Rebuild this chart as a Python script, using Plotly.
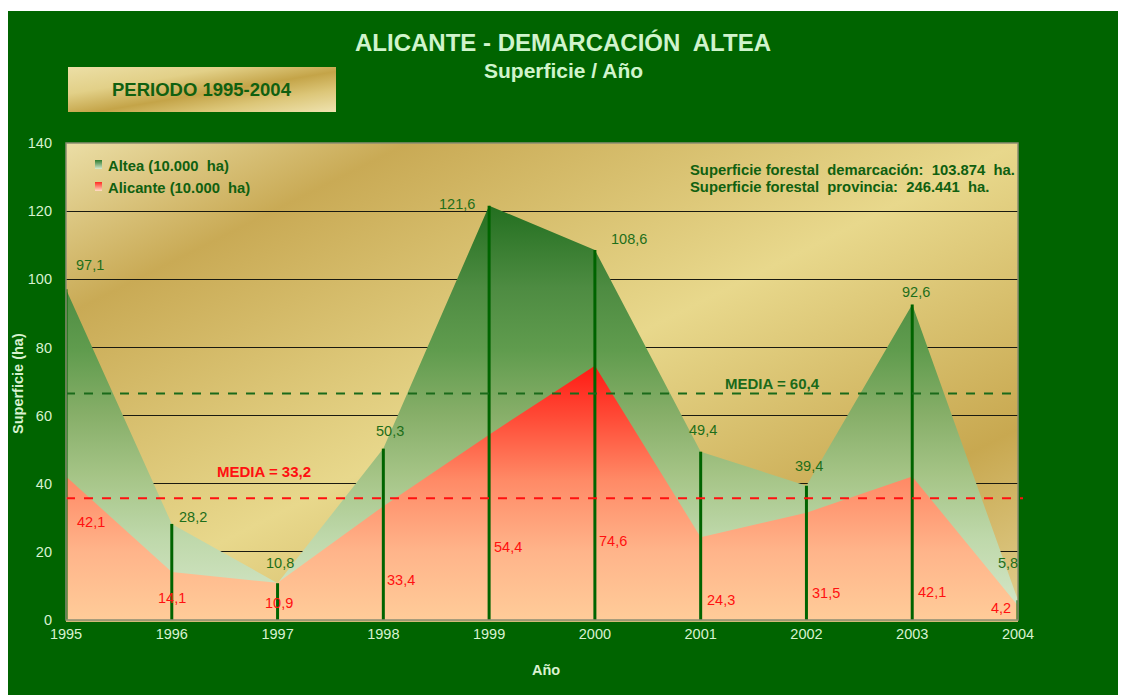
import base64
import plotly.graph_objects as go

# ---------------- data ----------------
years = [1995, 1996, 1997, 1998, 1999, 2000, 2001, 2002, 2003, 2004]
altea = [97.1, 28.2, 10.8, 50.3, 121.6, 108.6, 49.4, 39.4, 92.6, 5.8]
alicante = [42.1, 14.1, 10.9, 33.4, 54.4, 74.6, 24.3, 31.5, 42.1, 4.2]
y_ticks = [0, 20, 40, 60, 80, 100, 120, 140]
media_altea_text = "MEDIA = 60,4"
media_alicante_text = "MEDIA = 33,2"
media_altea_level = 66.5      # drawn level
media_alicante_level = 35.7   # drawn level
series_names = ["Altea (10.000  ha)", "Alicante (10.000  ha)"]
info_lines = ["Superficie forestal  demarcación:  103.874  ha.",
              "Superficie forestal  provincia:  246.441  ha."]

# label offsets (pixels, x right / y up) relative to each point
altea_shift = [(24, 24), (21, 7), (2, 20), (7, 18), (-32, 2), (34, 11),
               (2, 22), (3, 20), (4, 13), (-10, 37)]
alicante_shift = [(25, -45), (0, -26), (1, -20), (18, -74), (19, -112),
                  (18, -175), (20, -63), (20, -80), (20, -115), (-17, -2)]

# ---------------- layout geometry (screen pixels) ----------------
OX, OY = 8, 8                     # page body margin
FW, FH = 1118, 687                # figure size
L, R, T, B = 66, 1018, 143, 620   # plot area on screen
PW, PH = R - L, B - T


def px(x):
    return (x - L) / PW


def py(y):
    return (B - y) / PH


def fmt(v):
    return f"{v:.1f}".replace(".", ",")


def svg_uri(svg):
    return "data:image/svg+xml;base64," + base64.b64encode(svg.encode()).decode()


def grad_svg(w, h, stops, x2=1, y2=1):
    st = "".join(f'<stop offset="{o}" stop-color="{c}"/>' for o, c in stops)
    return (f'<svg xmlns="http://www.w3.org/2000/svg" width="{w}" height="{h}" '
            f'viewBox="0 0 {w} {h}" preserveAspectRatio="none"><defs>'
            f'<linearGradient id="g" x1="0" y1="0" x2="{x2}" y2="{y2}">{st}'
            f'</linearGradient></defs><rect width="{w}" height="{h}" fill="url(#g)"/></svg>')


FONT = "Arial, Liberation Sans, sans-serif"
DKGREEN = "#006400"
LABGREEN = "#1e6e1a"
TXTGREEN = "#106010"
PALE = "#d8f2d0"

gold_bg = grad_svg(PW, PH, [(0, "#ebdea6"), (0.18, "#c9aa55"), (0.5, "#e8d88c"),
                            (0.8, "#c8a850"), (1, "#e2d090")])
periodo_bg = grad_svg(268, 45, [(0, "#ecdfa6"), (0.3, "#e2d088"), (0.55, "#c4a448"),
                                (0.75, "#dcc678"), (1, "#efe3b0")])
leg_green = grad_svg(7, 9, [(0, "#2d7a2d"), (1, "#d8ead0")], x2=0, y2=1)
leg_red = grad_svg(7, 9, [(0, "#ff2a20"), (1, "#ffe0c8")], x2=0, y2=1)

fig = go.Figure()

fig.add_trace(go.Scatter(
    x=years, y=altea, mode="lines", line=dict(width=0), fill="tozeroy",
    fillgradient=dict(type="vertical", start=0, stop=max(altea),
                      colorscale=[[0, "#d8e8cc"], [0.2, "#bed8aa"], [0.35, "#a5c486"],
                                  [0.5, "#86ae68"], [0.65, "#609c4e"], [0.8, "#4e8c42"],
                                  [1, "#236f20"]]),
    name=series_names[0], showlegend=False, hoverinfo="skip"))

fig.add_trace(go.Scatter(
    x=years, y=alicante, mode="lines", line=dict(width=0), fill="tozeroy",
    fillgradient=dict(type="vertical", start=0, stop=max(alicante),
                      colorscale=[[0, "#ffcc99"], [0.27, "#ffb48a"], [0.55, "#ff8a66"],
                                  [0.8, "#ff4a36"], [1, "#ff1a14"]]),
    name=series_names[1], showlegend=False, hoverinfo="skip"))

# vertical drop lines
vx, vy = [], []
for yr, v in zip(years, altea):
    vx += [yr, yr, None]
    vy += [0, v, None]
fig.add_trace(go.Scatter(x=vx, y=vy, mode="lines", line=dict(color=DKGREEN, width=3),
                         showlegend=False, hoverinfo="skip"))

shapes = [
    dict(type="rect", xref="paper", yref="paper", x0=px(0), x1=px(1130), y0=py(11), y1=py(OY),
         fillcolor="white", line=dict(width=0), layer="below"),
    dict(type="line", xref="paper", yref="y", x0=0, x1=1, y0=media_altea_level,
         y1=media_altea_level, line=dict(color="#1a6a1a", width=2, dash="dash")),
    dict(type="line", xref="paper", yref="y", x0=0, x1=px(1023), y0=media_alicante_level,
         y1=media_alicante_level, line=dict(color="#ff1010", width=2, dash="dash")),
    dict(type="rect", xref="paper", yref="paper", x0=0, x1=1, y0=0, y1=1,
         line=dict(color="#8c8c72", width=1.5)),
]

images = [
    dict(source=svg_uri(gold_bg), xref="paper", yref="paper", x=0, y=1, sizex=1, sizey=1,
         sizing="stretch", layer="below", xanchor="left", yanchor="top"),
    dict(source=svg_uri(periodo_bg), xref="paper", yref="paper", x=px(68), y=py(67),
         sizex=268 / PW, sizey=45 / PH, sizing="stretch", layer="below",
         xanchor="left", yanchor="top"),
    dict(source=svg_uri(leg_green), xref="paper", yref="paper", x=px(95), y=py(160),
         sizex=7 / PW, sizey=9 / PH, sizing="stretch", layer="above",
         xanchor="left", yanchor="top"),
    dict(source=svg_uri(leg_red), xref="paper", yref="paper", x=px(95), y=py(182),
         sizex=7 / PW, sizey=9 / PH, sizing="stretch", layer="above",
         xanchor="left", yanchor="top"),
]


def note(x, y, text, size, color, xanchor="center", **kw):
    return dict(xref="paper", yref="paper", x=px(x), y=py(y), text=text, showarrow=False,
                xanchor=xanchor, yanchor="middle",
                font=dict(family=FONT, size=size, color=color), **kw)


ann = []
for yr, v, (dx, dy) in zip(years, altea, altea_shift):
    ann.append(dict(x=yr, y=v, text=fmt(v), showarrow=False, xshift=dx, yshift=dy,
                    xanchor="center", yanchor="middle",
                    font=dict(family=FONT, size=14.5, color=LABGREEN)))
for yr, v, (dx, dy) in zip(years, alicante, alicante_shift):
    ann.append(dict(x=yr, y=v, text=fmt(v), showarrow=False, xshift=dx, yshift=dy,
                    xanchor="center", yanchor="middle",
                    font=dict(family=FONT, size=14.5, color="#ff1010")))

ann += [
    dict(xref="paper", yref="y", x=px(772), y=media_altea_level, yshift=10,
         xanchor="center", yanchor="middle",
         text=f"<b>{media_altea_text}</b>", showarrow=False,
         font=dict(family=FONT, size=15, color="#1a6a1a")),
    dict(xref="paper", yref="y", x=px(264), y=media_alicante_level, yshift=27,
         xanchor="center", yanchor="middle",
         text=f"<b>{media_alicante_text}</b>", showarrow=False,
         font=dict(family=FONT, size=15, color="#ff1010")),
    note(563, 43, "<b>ALICANTE - DEMARCACIÓN  ALTEA</b>", 24, "#d0f4cc"),
    note(563, 70, "<b>Superficie / Año</b>", 21, "#d0f4cc"),
    note(202, 90, "<b>PERIODO 1995-2004</b>", 18.5, TXTGREEN),
    note(106, 166, f"<b>{series_names[0]}</b>", 14.8, TXTGREEN, xanchor="left"),
    note(106, 188, f"<b>{series_names[1]}</b>", 14.8, TXTGREEN, xanchor="left"),
    note(688, 170, f"<b>{info_lines[0]}</b>", 14.8, TXTGREEN, xanchor="left"),
    note(688, 187, f"<b>{info_lines[1]}</b>", 14.8, TXTGREEN, xanchor="left"),
    note(18, 384, "<b>Superficie (ha)</b>", 14.5, PALE, textangle=-90),
    note(546, 670, "<b>Año</b>", 14.5, PALE),
]

fig.update_layout(
    width=FW, height=FH,
    margin=dict(l=L - OX, r=OX + FW - R, t=T - OY, b=OY + FH - B, pad=0),
    paper_bgcolor="#006400",
    plot_bgcolor="rgba(0,0,0,0)",
    showlegend=False,
    shapes=shapes, images=images, annotations=ann,
    xaxis=dict(range=[years[0], years[-1]], tickmode="array", tickvals=years,
               ticktext=[str(y) for y in years], showgrid=False, zeroline=False,
               showline=True, linecolor="#d2b878", linewidth=2,
               tickfont=dict(family=FONT, size=14.5, color=PALE), ticks=""),
    yaxis=dict(range=[0, 140], tickmode="array", tickvals=y_ticks,
               showgrid=True, gridcolor="#1a1a10", gridwidth=1, zeroline=False,
               showline=False, ticks="", ticklabelstandoff=13,
               tickfont=dict(family=FONT, size=14.5, color=PALE)),
)

fig.write_html("out.html")
